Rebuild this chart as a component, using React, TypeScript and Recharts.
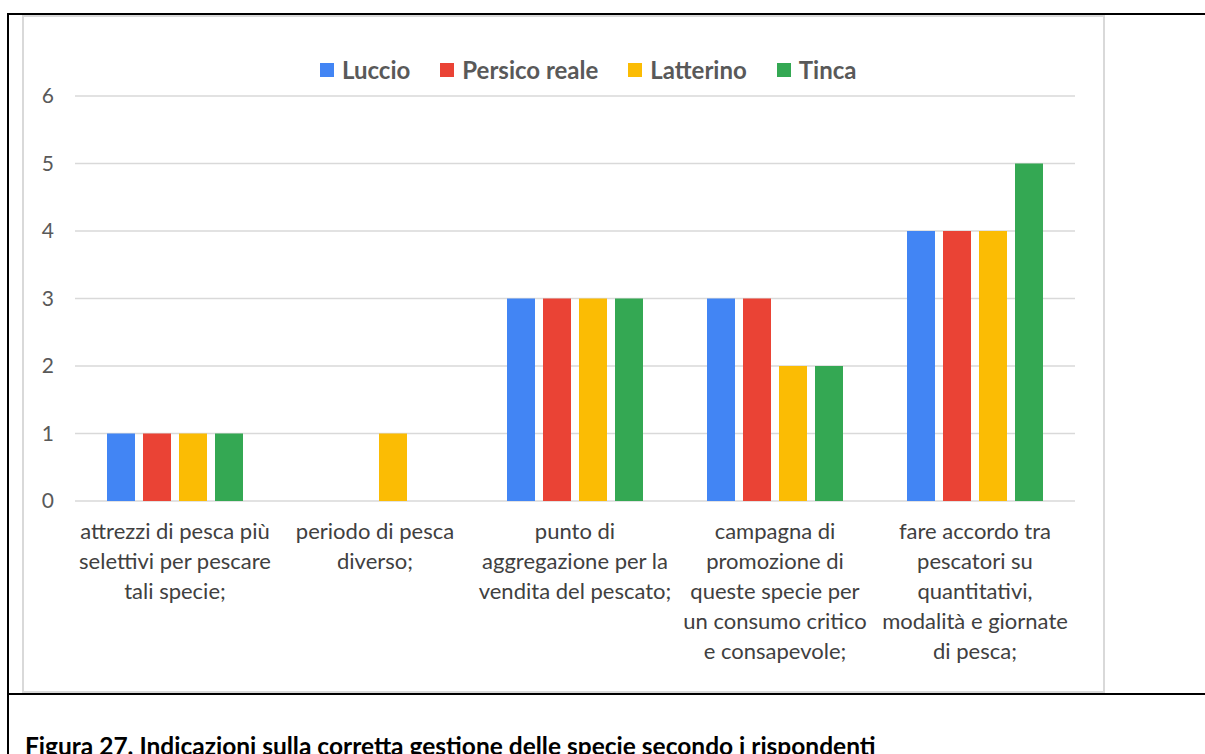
import { BarChart, Bar, XAxis, YAxis, CartesianGrid } from 'recharts';

const FONT = 'Lato, "Open Sans", sans-serif';

// category labels, line breaks where the axis wraps them
const categories = [
  'attrezzi di pesca più\nselettivi per pescare\ntali specie;',
  'periodo di pesca\ndiverso;',
  'punto di\naggregazione per la\nvendita del pescato;',
  'campagna di\npromozione di\nqueste specie per\nun consumo critico\ne consapevole;',
  'fare accordo tra\npescatori su\nquantitativi,\nmodalità e giornate\ndi pesca;',
];

const luccio = [1, 0, 3, 3, 4];
const persicoReale = [1, 0, 3, 3, 4];
const latterino = [1, 1, 3, 2, 4];
const tinca = [1, 0, 3, 2, 5];

const yTicks = [0, 1, 2, 3, 4, 5, 6];

const series = [
  { key: 'luccio', name: 'Luccio', color: '#4285F4' },
  { key: 'persico', name: 'Persico reale', color: '#EA4335' },
  { key: 'latterino', name: 'Latterino', color: '#FBBC04' },
  { key: 'tinca', name: 'Tinca', color: '#34A853' },
];

const data = categories.map((category, i) => ({
  category,
  luccio: luccio[i],
  persico: persicoReale[i],
  latterino: latterino[i],
  tinca: tinca[i],
}));

const CategoryTick = ({ x, y, payload }: any) => {
  const lines = String(payload.value).split('\n');
  return (
    <text x={x} y={y} textAnchor="middle" fill="#404040" fontSize={22} fontFamily={FONT}>
      {lines.map((line, i) => (
        <tspan key={i} x={x} dy={i === 0 ? 38 : 30}>
          {line}
        </tspan>
      ))}
    </text>
  );
};

const LegendRow = () => (
  <div
    style={{
      position: 'absolute',
      left: 296,
      top: 38,
      display: 'flex',
      alignItems: 'center',
      fontFamily: FONT,
      fontWeight: 700,
      fontSize: 24,
      color: '#595959',
      whiteSpace: 'nowrap',
    }}
  >
    {series.map((s) => (
      <div key={s.key} style={{ display: 'flex', alignItems: 'center', marginRight: 30 }}>
        <span style={{ width: 14, height: 14, background: s.color, marginRight: 8 }} />
        <span>{s.name}</span>
      </div>
    ))}
  </div>
);

export default function App() {
  return (
    <div
      style={{
        position: 'absolute',
        left: 0,
        top: 0,
        width: 1205,
        height: 754,
        overflow: 'hidden',
        background: '#fff',
      }}
    >
      {/* table cell rules */}
      <div style={{ position: 'absolute', left: 8, top: 13, width: 1197, height: 2, background: '#000' }} />
      <div style={{ position: 'absolute', left: 7, top: 13, width: 2, height: 741, background: '#000' }} />
      <div style={{ position: 'absolute', left: 8, top: 693, width: 1197, height: 2, background: '#000' }} />

      {/* chart frame */}
      <div
        style={{
          position: 'absolute',
          left: 22,
          top: 15,
          width: 1083,
          height: 678,
          boxSizing: 'border-box',
          border: '2px solid #d9d9d9',
          background: '#fff',
        }}
      >
        <div style={{ position: 'absolute', left: -2, top: -2 }}>
          <BarChart
            width={1083}
            height={678}
            data={data}
            margin={{ top: 81, right: 30, bottom: 0, left: 0 }}
            barSize={28}
            barGap={8}
          >
            <CartesianGrid vertical={false} stroke="#d9d9d9" strokeWidth={1.5} />
            <XAxis
              dataKey="category"
              height={192}
              axisLine={false}
              tickLine={false}
              tickSize={0}
              tickMargin={0}
              interval={0}
              tick={<CategoryTick />}
            />
            <YAxis
              width={53}
              domain={[0, 6]}
              ticks={yTicks}
              axisLine={false}
              tickLine={false}
              tickSize={0}
              tickMargin={21}
              tick={{ fill: '#595959', fontSize: 21, fontFamily: FONT }}
            />
            {series.map((s) => (
              <Bar key={s.key} dataKey={s.key} name={s.name} fill={s.color} isAnimationActive={false} />
            ))}
          </BarChart>
        </div>
        <LegendRow />
      </div>

      <div
        style={{
          position: 'absolute',
          left: 25,
          top: 734,
          fontFamily: FONT,
          fontWeight: 700,
          fontSize: 24.5,
          color: '#000',
          whiteSpace: 'nowrap',
          lineHeight: 1,
        }}
      >
        Figura 27. Indicazioni sulla corretta gestione delle specie secondo i rispondenti
      </div>
    </div>
  );
}
